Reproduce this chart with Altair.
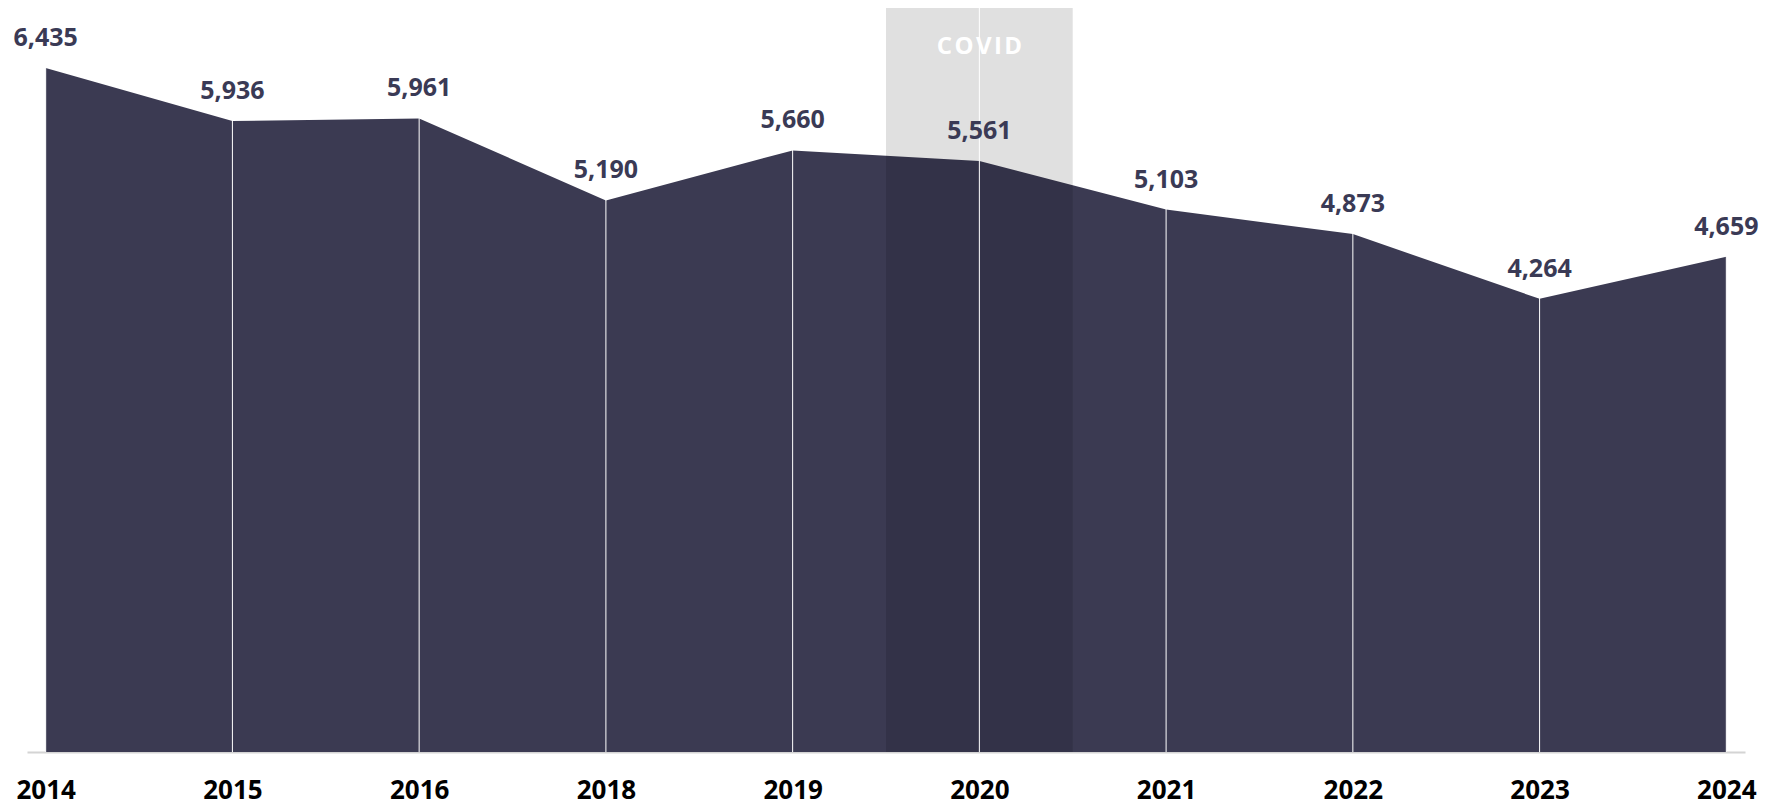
import altair as alt
import pandas as pd

years = ["2014", "2015", "2016", "2018", "2019", "2020", "2021", "2022", "2023", "2024"]
values = [6435, 5936, 5961, 5190, 5660, 5561, 5103, 4873, 4264, 4659]
covid_year = "2020"
covid_label = "COVID"

Y_MAX = 7000
AREA_COLOR = "#3b3a52"
FONT = "Open Sans"

df = pd.DataFrame({"idx": list(range(len(years))), "year": years, "value": values})
df["label"] = [f"{v:,}" for v in values]
df["top"] = Y_MAX

ci = years.index(covid_year)
band = pd.DataFrame({"x0": [ci - 0.5], "x1": [ci + 0.5], "y0": [0], "y1": [Y_MAX],
                     "xm": [ci], "label": ["\u200a".join(covid_label)]})

label_expr = "[" + ",".join(f"'{y}'" for y in years) + "][datum.value]"

xscale = alt.Scale(domain=[-0.1, len(years) - 1 + 0.1], nice=False, zero=False)
yscale = alt.Scale(domain=[0, Y_MAX], nice=False)

base = alt.Chart(df)

area = base.mark_area(color=AREA_COLOR, opacity=1).encode(
    x=alt.X("idx:Q", scale=xscale,
            axis=alt.Axis(title=None, values=list(range(len(years))), labelExpr=label_expr,
                          grid=False, ticks=False, domain=True, domainColor="#d4d4d4",
                          domainWidth=2, labelFontSize=26, labelFont=FONT,
                          labelFontWeight="bold", labelColor="#000000", labelPadding=25,
                          labelOverlap=False, labelBound=False, labelFlush=False)),
    y=alt.Y("value:Q", scale=yscale, axis=None),
)

rect = alt.Chart(band).mark_rect(color="#000000", opacity=0.12).encode(
    x=alt.X("x0:Q", scale=xscale), x2="x1:Q",
    y=alt.Y("y0:Q", scale=yscale), y2="y1:Q",
)

rules = base.mark_rule(color="#ffffff", strokeWidth=1).encode(
    x=alt.X("idx:Q", scale=xscale),
    y=alt.Y("top:Q", scale=yscale),
    y2=alt.datum(0),
)

labels = base.mark_text(font=FONT, fontSize=25, fontWeight="bold", color="#3a3a55",
                        baseline="alphabetic", dy=-22).encode(
    x=alt.X("idx:Q", scale=xscale),
    y=alt.Y("value:Q", scale=yscale),
    text="label:N",
)

covid = alt.Chart(band).mark_text(font=FONT, fontSize=24, fontWeight="bold", color="#ffffff",
                                  baseline="alphabetic").encode(
    x=alt.X("xm:Q", scale=xscale),
    y=alt.value(46),
    text="label:N",
)

chart = alt.layer(area, rect, rules, labels, covid).properties(
    width=1718, height=744,
    autosize=alt.AutoSizeParams(type="none"),
    padding={"left": 19, "top": 0, "right": 27, "bottom": 54},
).configure_view(stroke=None)

chart.save("out.html", embed_options={"renderer": "svg", "actions": False})
